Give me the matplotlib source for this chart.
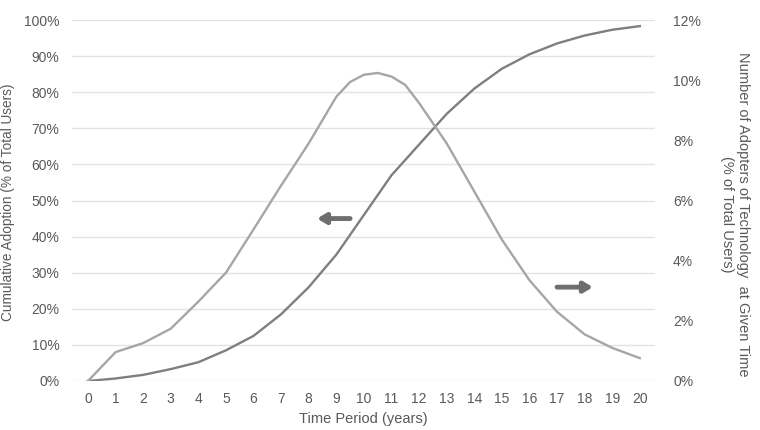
import matplotlib
matplotlib.use("Agg")
import matplotlib.pyplot as plt
from matplotlib.ticker import FuncFormatter

years = list(range(21))
# Cumulative adoption (% of total users), left axis
cumulative = [0, 0.7, 1.7, 3.3, 5.2, 8.5, 12.5, 18.5, 26, 35, 46, 57, 65.5, 74,
              81, 86.5, 90.5, 93.5, 95.7, 97.3, 98.3]
# Adopters at given time (% of total users), right axis (read with extra points near the peak)
adopter_years = [0, 1, 2, 3, 4, 5, 6, 7, 8, 9, 9.5, 10, 10.5, 11, 11.5, 12,
                 13, 14, 15, 16, 17, 18, 19, 20]
adopters = [0, 0.96, 1.26, 1.74, 2.64, 3.6, 5.04, 6.5, 7.9, 9.45, 9.94, 10.18,
            10.24, 10.12, 9.84, 9.24, 7.9, 6.3, 4.7, 3.35, 2.3, 1.55, 1.1, 0.76]
left_ticks = [0, 10, 20, 30, 40, 50, 60, 70, 80, 90, 100]
right_ticks = [0, 2, 4, 6, 8, 10, 12]

plt.rcParams['font.family'] = ['Liberation Sans', 'DejaVu Sans']
txt = '#595959'

fig = plt.figure(figsize=(7.6, 4.3), dpi=100)
ax = fig.add_axes([72/760, 49/430, (655-72)/760, (381-20)/430])
ax2 = ax.twinx()

ax.plot(years, cumulative, color='#7f7f7f', lw=1.7, zorder=3, solid_joinstyle='round')
ax2.plot(adopter_years, adopters, color='#a6a6a6', lw=1.7, zorder=3, solid_joinstyle='round')

ax.set_xlim(-0.58, 20.55)
ax.set_ylim(0, 100)
ax2.set_ylim(0, 12)
ax.set_yticks(left_ticks)
ax2.set_yticks(right_ticks)
ax.set_xticks(years)
ax.yaxis.set_major_formatter(FuncFormatter(lambda v, p: f"{int(v)}%"))
ax2.yaxis.set_major_formatter(FuncFormatter(lambda v, p: f"{int(v)}%"))
ax.grid(axis='y', color='#e3e3e3', lw=1)
ax.set_axisbelow(True)
for a in (ax, ax2):
    for s in a.spines.values():
        s.set_visible(False)
    a.tick_params(length=0, labelsize=10, colors=txt)
ax.tick_params(axis='y', pad=9)
ax2.tick_params(axis='y', pad=13)
ax.tick_params(axis='x', pad=8)

ax.set_xlabel("Time Period (years)", fontsize=10.5, color=txt, labelpad=4)
fig.text(8/760, 1 - 202/430, "Cumulative Adoption (% of Total Users)", fontsize=9.8,
         color=txt, rotation=90, ha='center', va='center')
fig.text(735/760, 1 - 214/430,
         "Number of Adopters of Technology  at Given Time\n(% of Total Users)",
         fontsize=10.5, color=txt, rotation=-90, ha='center', va='center',
         multialignment='center', linespacing=1.1)

ax.annotate('', xy=(8.2, 45), xytext=(9.6, 45),
            arrowprops=dict(arrowstyle='-|>,head_length=0.5,head_width=0.3', color='#6e6e6e', lw=3.5))
ax.annotate('', xy=(18.4, 26), xytext=(16.9, 26),
            arrowprops=dict(arrowstyle='-|>,head_length=0.5,head_width=0.3', color='#6e6e6e', lw=3.5))

fig.savefig('out.png', dpi=100)
